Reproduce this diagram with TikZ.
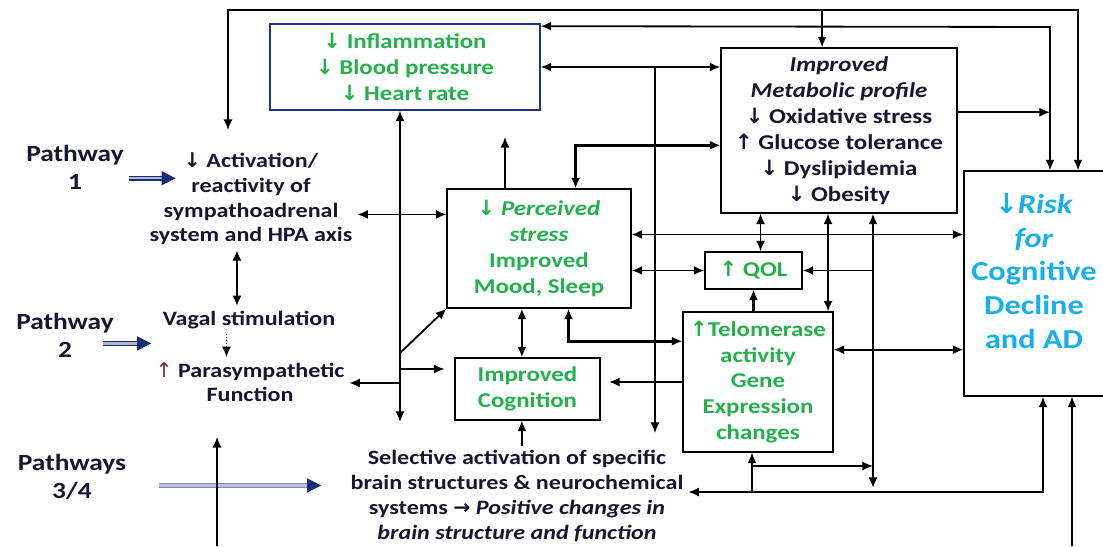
\documentclass[tikz,border=0pt]{standalone}
\usepackage{fontspec}
\setmainfont{Carlito}[FakeStretch=1.18]
\newfontfamily\arrowfont{DejaVu Sans}
\usetikzlibrary{arrows.meta}

\definecolor{pwnavy}{RGB}{25,45,120}
\definecolor{leafgreen}{RGB}{36,176,76}
\definecolor{riskblue}{RGB}{25,175,235}
\definecolor{boxblue}{RGB}{30,50,130}
\definecolor{inknavy}{RGB}{22,22,50}
\definecolor{paraup}{RGB}{120,30,80}

\newcommand{\dnarr}{{\arrowfont\symbol{"2193}}}
\newcommand{\uparr}{{\arrowfont\symbol{"2191}}}
\newcommand{\rtarr}{{\arrowfont\symbol{"2192}}}

\tikzstyle{txt} = [align=center, text=inknavy, font=\bfseries\fontsize{14.5}{17.6}\selectfont]
\tikzstyle{pathlabel} = [align=center, text=inknavy, font=\bfseries\fontsize{16.5}{20}\selectfont]
\tikzstyle{greenbox} = [rectangle, draw=black, line width=0.9pt, align=center, text=leafgreen, font=\bfseries\fontsize{15}{18.3}\selectfont]
\tikzstyle{darkbox} = [greenbox, text=inknavy, font=\bfseries\fontsize{15}{18.5}\selectfont]
\tikzstyle{riskbox} = [greenbox, text=riskblue, font=\bfseries\fontsize{19.5}{24}\selectfont]
\tikzstyle{link} = [line width=1.3pt, >={Latex[length=7.5pt,width=6.5pt]}]
\tikzstyle{heavy} = [link, line width=1.9pt]
\tikzstyle{pwarrow} = [draw=pwnavy, line width=0.8pt, double=pwnavy!35, double distance=1.7pt, -{Triangle[length=10pt,width=10pt,color=pwnavy]}]

\begin{document}
\begin{tikzpicture}[x=0.025cm, y=-0.025cm]
	\useasboundingbox (0,0) rectangle (1103,546);

	% boxes
	\node (infl) [greenbox, draw=boxblue, minimum width=6.75cm, minimum height=2.15cm] at (405,67) {\dnarr\ Inflammation\\ \dnarr\ Blood pressure\\ \dnarr\ Heart rate};
	\node (perc) [greenbox, minimum width=4.6cm, minimum height=2.975cm] at (539,248.5) {\dnarr\ \textit{Perceived}\\ \textit{stress}\\ Improved\\ Mood, Sleep};
	\node (meta) [darkbox, minimum width=5.9cm, minimum height=4.125cm] at (839,130.5) {\textit{Improved}\\ \textit{Metabolic profile}\\ \dnarr\ Oxidative stress\\ \uparr\ Glucose tolerance\\ \dnarr\ Dyslipidemia\\ \dnarr\ Obesity};
	\node (qol) [greenbox, minimum width=2.425cm, minimum height=0.925cm] at (753.5,270.5) {\uparr\ QOL};
	\node (telo) [greenbox, minimum width=3.75cm, minimum height=3.5cm] at (758,382) {\uparr Telomerase\\ activity\\ Gene\\ Expression\\ changes};
	\node (cogn) [greenbox, minimum width=3.625cm, minimum height=1.55cm] at (527.5,389) {Improved\\ Cognition};
	\node (risk) [riskbox, minimum width=3.5cm, minimum height=5.625cm] at (1034,283.5) {\dnarr\textit{Risk}\\ \textit{for}\\ Cognitive\\ Decline\\ and AD\\[-6pt]\mbox{}};

	% plain texts
	\node (pw1) [pathlabel] at (75,167) {Pathway\\ 1};
	\node (pw2) [pathlabel] at (65,335) {Pathway\\ 2};
	\node (pw34) [pathlabel] at (72,477) {Pathways\\ 3/4};
	\node (symp) [txt] at (251,199) {\dnarr\ Activation/\\ reactivity of\\ sympathoadrenal\\ system and HPA axis};
	\node (vagal) [txt] at (249,320) {Vagal stimulation};
	\node (para) [txt] at (250,382) {{\color{paraup}\mdseries\uparr} Parasympathetic\\ Function};
	\node (sel) [txt] at (517,496) {Selective activation of specific\\ brain structures \& neurochemical\\ systems \rtarr\ \textit{Positive changes in}\\ \textit{brain structure and function}};

	% pathways
	\draw [pwarrow] ([yshift=-8pt]pw1.east) -- ++(47,0);
	\draw [pwarrow] ([xshift=-11pt,yshift=-6pt]pw2.east) -- ++(48,0);
	\draw [pwarrow, draw=pwnavy!55, double=pwnavy!30] ([xshift=20pt,yshift=-6pt]pw34.east) -- ++(162,0);

	% loops along the top
	\coordinate (tl) at (228,10);
	\coordinate (tr) at (1078,10);
	\coordinate (symin) at (228,130);
	\coordinate (rt) at (1050,27);
	\draw [link,<->] (symin) -- (tl) -- (tr) -- (tr |- risk.north);
	\draw [link,->] ([xshift=-12pt]meta.north |- tl) -- ([xshift=-12pt]meta.north);
	\draw [link,<->] ([yshift=-2pt]infl.north east) -- (rt) -- (rt |- risk.north);
	\draw [link,->] ([yshift=13pt]meta.east) -- ([yshift=13pt]meta.east -| rt);

	% inflammation and metabolic profile
	\coordinate (midend) at (655,433);
	\draw [link,<->] (infl.east) -- (infl.east -| meta.west);
	\draw [link,->] (infl.east -| midend) -- (midend);
	\draw [heavy,<->] ([xshift=26pt]perc.north) |- ([yshift=-10.5pt]meta.west);
	\coordinate (percup) at (505,137);
	\draw [link,->] (perc.north -| percup) -- (percup);

	% left side
	\draw [link,<->] ([yshift=-11pt]symp.east) -- ([yshift=-11pt]symp.east -| perc.west);
	\draw [heavy,<->] ([xshift=-10pt]symp.south) -- ([xshift=-10pt]symp.south |- vagal.north);
	\draw [link,line width=1.1pt,densely dotted,->] ([xshift=-16pt]vagal.south) -- ([xshift=-16pt]vagal.south |- para.north);
	\coordinate (bl) at (217,546);
	\coordinate (blend) at (217,437);
	\draw [link,->] (bl) -- (blend);

	% bus at x=400
	\coordinate (busend) at (400,422);
	\coordinate (busd) at (400,353);
	\coordinate (busc) at (400,369);
	\coordinate (busp) at (400,383);
	\draw [link,<->] (infl.south -| busend) -- (busend);
	\draw [link,->] (busd) -- (perc.south west);
	\draw [link,->] (busc) -- ([xshift=-7pt]cogn.west |- busc);
	\draw [link,->] (busp) -- (para.east |- busp);

	% middle
	\draw [link,<->] (perc.east |- qol.west) -- (qol.west);
	\draw [link,<->] ([yshift=10pt]perc.east) -- ([yshift=10pt]perc.east -| risk.west);
	\draw [link,<->] ([xshift=5pt]qol.north) -- ([xshift=5pt]qol.north |- meta.south);
	\draw [link,<->] ([xshift=-4pt]telo.north east) -- ([xshift=-4pt]telo.north east |- meta.south);
	\draw [heavy,->] (telo.north -| qol.south) -- (qol.south);
	\draw [heavy,<->] ([xshift=-4pt]cogn.north) -- ([xshift=-4pt]cogn.north |- perc.south);
	\draw [heavy,<->] ([xshift=21pt]perc.south) |- ([yshift=29pt]telo.west);
	\draw [link,->] (telo.west) -- ([xshift=6pt]cogn.east |- telo.west);
	\draw [link,->] ([xshift=-4pt]sel.north -| cogn.south) -- ([xshift=-4pt]cogn.south);

	% bus at x=873
	\coordinate (busr) at (873,488);
	\draw [heavy,<->] (meta.south -| busr) -- (busr);
	\draw [link,->] (qol.east -| busr) -- (qol.east);
	\draw [link,<->] ([yshift=23pt]telo.east) -- ([yshift=23pt]telo.east -| risk.west);

	% bottom
	\coordinate (bb) at (1043,492);
	\coordinate (tb) at (752,492);
	\coordinate (tm) at (752,466);
	\coordinate (br) at (1072,546);
	\draw [link,<->] (sel.east |- bb) -- (bb) -- (bb |- risk.south);
	\draw [link,->] (tb) -- (telo.south -| tb);
	\draw [link,->] (tm) -- (busr |- tm);
	\draw [link,->] (br) -- (br |- risk.south);
\end{tikzpicture}
\end{document}
